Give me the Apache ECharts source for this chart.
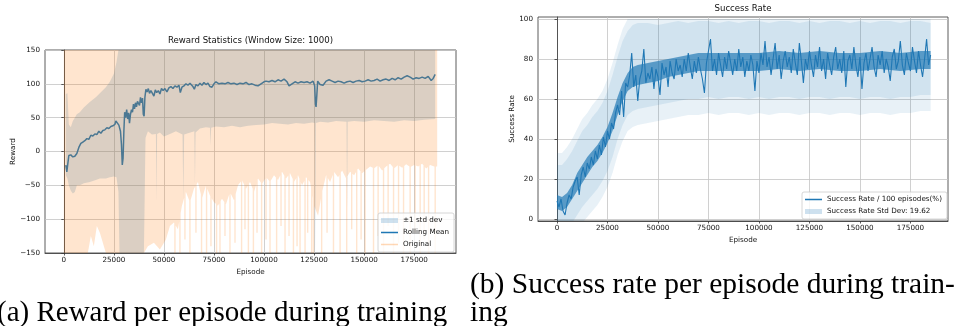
<!DOCTYPE html>
<html>
<head>
<meta charset="utf-8">
<script src="https://cdn.jsdelivr.net/npm/echarts@6/dist/echarts.min.js"></script>
<style>
  html, body { margin: 0; padding: 0; background: #fff; }
  #chart { width: 955px; height: 326px; }
</style>
</head>
<body>
<div id="chart"></div>
<script>
// ---- (a) reward statistics ----
const rmEpisodes = [1000, 1500, 2000, 2500, 3500, 4500, 5500, 6500, 7500, 8500, 9500, 10500, 11500, 12500, 13500, 14500, 15500, 16500, 17500, 18500,
  19500, 20500, 21500, 22500, 23500, 24500, 25500, 26000, 26700, 27500, 28300, 28800, 29200, 29600, 30000, 30400, 30900, 31400, 31900, 32400,
  32800, 33300, 33800, 34300, 34800, 35300, 35800, 36300, 36800, 37300, 37800, 38300, 38800, 39300, 39700, 40100, 40500, 41000, 41600, 42200,
  42800, 43500, 44200, 45000, 45700, 46400, 47200, 48000, 48800, 49600, 50500, 51500, 52500, 53500, 54500, 55500, 56500, 57500, 58200, 59000,
  60000, 61000, 62000, 63000, 63700, 64500, 65200, 66000, 67000, 68000, 69000, 70000, 71000, 72000, 73000, 74000, 75000, 76000, 77500, 79000,
  80500, 82000, 83500, 85000, 86500, 88000, 89500, 91000, 92500, 94000, 95500, 97000, 98500, 100000, 101000, 102500, 104000, 105500, 107000, 108500,
  110000, 111500, 112500, 114000, 115500, 117000, 118500, 120000, 121500, 123000, 124500, 125300, 125700, 126000, 126400, 126800, 128000, 129500, 131000, 132500,
  134000, 135500, 137000, 138500, 140000, 141500, 143000, 144500, 146000, 147500, 149000, 150500, 152000, 153500, 155000, 156500, 158000, 159500, 161000, 162500,
  164000, 165500, 167000, 168500, 170000, 171500, 173000, 174500, 176000, 177500, 179000, 180500, 182000, 183500, 184500, 185500];
const rmValues = [-20, -30, -18, -6, -5, -8, -7, -3, 6, 12, 14, 16, 19, 18, 24, 23, 26, 25, 30, 27,
  31, 32, 35, 34, 37, 38, 40, 45, 43, 39, 30, 10, -20, -10, 30, 58, 50, 62, 48, 57,
  42, 55, 62, 58, 70, 63, 72, 66, 74, 76, 68, 80, 72, 79, 55, 52, 80, 92, 88, 93,
  86, 90, 88, 82, 91, 87, 90, 85, 93, 90, 93, 88, 94, 96, 93, 97, 95, 98, 87, 95,
  97, 100, 98, 101, 103, 96, 92, 99, 97, 101, 98, 102, 99, 101, 96, 95, 100, 103, 100, 101,
  100, 102, 100, 101, 99, 101, 100, 102, 99, 100, 98, 97, 100, 103, 104, 103, 105, 103, 106, 104,
  107, 103, 97, 100, 103, 101, 103, 102, 103, 101, 104, 97, 70, 66, 84, 104, 99, 98, 104, 106,
  104, 102, 104, 103, 101, 103, 104, 102, 104, 105, 103, 104, 106, 104, 105, 107, 104, 106, 107, 105,
  108, 106, 109, 107, 110, 112, 110, 107, 109, 108, 110, 108, 111, 105, 108, 114];

const stdEpisodes = [1000, 1800, 2500, 3500, 4500, 5500, 6500, 8000, 10000, 13000, 16000, 18000, 21000, 23000, 25000, 26300, 27300, 27800, 40000, 40800,
  42000, 44000, 46000, 46300, 46600, 48000, 50000, 53000, 56000, 59300, 59700, 60100, 62000, 65200, 65500, 65800, 68000, 71000, 73000, 73300,
  73600, 76000, 80000, 84000, 88000, 92000, 96000, 100000, 104000, 108000, 112000, 116000, 120000, 124000, 125300, 125600, 125900, 128000, 132000, 136000,
  141200, 141500, 141800, 145000, 150000, 155000, 160000, 165000, 170000, 175000, 180000, 185500];
const stdUpper = [85, 86, 40, 36, 45, 50, 55, 58, 65, 73, 80, 86, 95, 103, 115, 132, 150, 150, 150, 150,
  150, 150, 150, 150, 150, 150, 150, 150, 150, 150, 150, 150, 150, 150, 150, 150, 150, 150, 150, 150,
  150, 150, 150, 150, 150, 150, 150, 150, 150, 150, 150, 150, 150, 150, 150, 150, 150, 150, 150, 150,
  150, 150, 150, 150, 150, 150, 150, 150, 150, 150, 150, 150];
const stdLower = [-35, -40, -50, -58, -62, -60, -50, -50, -47, -45, -42, -40, -40, -38, -37, -38, -60, -150, -150, 20,
  30, 25, 26, -75, 26, 28, 22, 26, 30, 25, -72, 25, 27, 30, -50, 28, 34, 36, 35, 9,
  35, 37, 36, 38, 36, 38, 39, 40, 42, 41, 40, 42, 41, 43, 42, -150, 42, 44, 43, 45,
  44, -85, 44, 45, 44, 46, 45, 44, 46, 45, 47, 48];

// lower edge of the dense raw-reward cloud (it always reaches the top of the plot)
const origEpisodes = [0, 12000, 13500, 15000, 16500, 18000, 19500, 21000, 40000, 42000,
  45000, 48000, 51000, 53000, 55000, 57000, 59000, 61000, 63000, 65000,
  67000, 69000, 71000, 73000, 75000, 77000, 79000, 81000, 83000, 85000,
  87000, 89000, 91000, 93000, 95000, 97000, 99000, 101000, 103000, 105000,
  107000, 109000, 111000, 113000, 115000, 117000, 119000, 121000, 123000, 125000,
  127000, 129000, 131000, 133000, 135000, 137000, 139000, 141000, 143000, 145000,
  147000, 149000, 151000, 153000, 155000, 157000, 159000, 161000, 163000, 165000,
  167000, 169000, 171000, 173000, 175000, 177000, 179000, 181000, 183000, 185000, 186500];
const origLower = [-150, -150, -125, -140, -110, -120, -135, -150, -150, -140,
  -135, -145, -130, -110, -105, -115, -80, -60, -75, -55,
  -45, -70, -50, -65, -75, -80, -70, -78, -60, -72,
  -50, -42, -55, -45, -60, -40, -48, -38, -45, -35,
  -42, -30, -40, -32, -45, -35, -50, -38, -45, -80,
  -95, -60, -35, -45, -30, -38, -28, -40, -30, -35,
  -25, -32, -27, -22, -25, -20, -28, -22, -18, -25,
  -20, -24, -19, -23, -20, -22, -18, -25, -20, -22, -22];
// single very low episodes poking below the cloud
const origSpikeEpisodes = [55500, 58000, 60500, 63000, 66000, 68800, 71300, 73500, 76300, 78000,
  80500, 83000, 85500, 88800, 90500, 92200, 94700, 96500, 98800, 101000,
  103000, 106300, 108500, 110500, 112500, 114700, 116500, 118000, 120500, 121800,
  123800, 124700, 128800, 131500, 134700, 138000, 141300, 143800, 146300, 148500,
  150500, 154700, 157000, 159700, 162000, 164700, 167200, 169700, 173000, 175500,
  178000, 180000, 182200, 185500];
const origSpikeLows = [-150, -150, -130, -150, -120, -150, -150, -140, -150, -150,
  -125, -150, -135, -150, -115, -150, -150, -120, -150, -130,
  -150, -150, -110, -150, -125, -150, -140, -150, -150, -120,
  -150, -150, -150, -120, -150, -150, -150, -115, -150, -130,
  -150, -150, -125, -150, -110, -150, -135, -150, -150, -120,
  -150, -130, -150, -150];

// ---- (b) success rate ----
const srStep = 1000;
const srValues = [9, 6, 10, 4, 2, 8, 12, 10, 16, 19, 21,
  12, 22, 26, 21, 28, 25, 31, 27, 34, 30, 37, 32, 41, 36, 44,
  40, 48, 45, 53, 57, 52, 64, 51, 68, 66, 72,
  83, 66, 72, 59, 70, 74, 85, 68, 73, 70, 76, 65, 75, 71, 62, 78, 72, 76, 66, 79, 73, 70, 80, 74,
  77, 71, 80, 74, 83, 76, 70, 79, 73, 81, 75, 70, 63, 78, 84, 90, 74, 80, 72, 83,
  77, 71, 81, 75, 84, 78, 72, 80, 74, 85, 76, 81, 71, 79, 74, 82, 77, 64, 79, 73,
  83, 77, 89, 76, 81, 72, 80, 88, 75, 82, 70, 79, 84, 76, 81, 73, 85, 78, 72, 88,
  79, 68, 80, 75, 84, 77, 71, 82, 76, 86, 74, 80, 70, 83, 77, 72, 81, 86, 75, 80,
  73, 84, 66, 79, 82, 75, 86, 77, 71, 81, 65, 78, 83, 74, 80, 86, 76, 71, 82, 77,
  84, 73, 80, 76, 69, 81, 85, 75, 79, 89, 77, 72, 83, 78, 74, 86, 79, 73, 84, 77,
  71, 80, 90, 77, 82];
// where the dense success-rate trace overlaps itself into a solid ribbon
const srRibbonEpisodes = [0, 2500, 5000, 7500, 10000, 12500, 15000, 17500, 20000, 22500,
  25000, 27500, 30000, 32500, 35000, 37500, 40000, 45000, 50000, 55000,
  60000, 65000, 70000, 80000, 90000, 100000, 110000, 120000, 130000, 140000,
  150000, 160000, 170000, 180000, 185000];
const srRibbonLow = [5, 4, 6, 10, 14, 18, 22, 26, 29, 33,
  38, 44, 52, 59, 64, 66, 67, 68, 69, 71,
  72, 73, 74, 74, 74, 74, 75, 74, 75, 74,
  74, 75, 74, 75, 75];
const srRibbonHigh = [12, 11, 13, 17, 23, 27, 31, 34, 37, 41,
  46, 53, 61, 68, 73, 76, 77, 78, 79, 80,
  81, 82, 83, 83, 83, 83, 84, 83, 84, 83,
  83, 84, 83, 84, 84];
const srBandEpisodes = [0, 2500, 5000, 7500, 10000, 12500, 15000, 17500, 20000, 22500,
  25000, 27500, 30000, 32500, 35000, 37500, 40000, 45000, 50000, 55000,
  60000, 65000, 70000, 75000, 80000, 85000, 90000, 95000, 100000, 105000,
  110000, 115000, 120000, 125000, 130000, 135000, 140000, 145000, 150000, 155000,
  160000, 165000, 170000, 175000, 180000, 185000];
const srBandUpper = [27, 27, 30, 34, 39, 44, 47, 51, 54, 58,
  64, 72, 81, 89, 94, 97, 98, 98, 97, 98,
  99, 98, 99, 99, 98, 99, 98, 99, 99, 98,
  99, 99, 98, 99, 98, 99, 99, 98, 99, 98,
  99, 99, 98, 99, 99, 98];
const srBandLower = [-6, -7, -5, -2, 2, 6, 9, 12, 15, 19,
  24, 31, 40, 47, 52, 54, 55, 56, 57, 58,
  59, 60, 60, 61, 60, 61, 61, 60, 61, 60,
  61, 61, 60, 61, 61, 60, 61, 61, 60, 61,
  61, 60, 61, 61, 62, 62];
// faint outer edge of the std band
const srFuzzUpper = [33, 33, 36, 40, 45, 50, 53, 57, 60, 64,
  70, 78, 87, 95, 100, 100, 100, 100, 100, 100,
  100, 100, 100, 100, 100, 100, 100, 100, 100, 100,
  100, 100, 100, 100, 100, 100, 100, 100, 100, 100,
  100, 100, 100, 100, 100, 100];
const srFuzzLower = [-14, -15, -13, -10, -6, -2, 1, 4, 7, 11,
  16, 23, 32, 39, 44, 46, 47, 48, 49, 50,
  51, 52, 52, 53, 52, 53, 53, 52, 53, 52,
  53, 53, 52, 53, 53, 52, 53, 53, 52, 53,
  53, 52, 53, 53, 54, 54];

const episodeTicks = [0, 25000, 50000, 75000, 100000, 125000, 150000, 175000];
const successTicks = [0, 20, 40, 60, 80, 100];

const FONT = "DejaVu Sans";
const SERIF = "Liberation Serif";
const blue = "#1f77b4";
// thin bar inside a 17x5 box, for line entries in the legends
const lineIcon = "path://M0,0L0.01,0L0,0.01Z M0,1.85L17,1.85L17,3.15L0,3.15Z M17,5L16.99,5L17,4.99Z";

function pairs(xs, ys) {
  return xs.map((x, i) => [x, ys[i]]);
}
function interp(xs, ys, x) {
  for (let i = 1; i < xs.length; i++) {
    if (x <= xs[i]) {
      const t = (x - xs[i - 1]) / (xs[i] - xs[i - 1]);
      return ys[i - 1] + t * (ys[i] - ys[i - 1]);
    }
  }
  return ys[ys.length - 1];
}

// filled band between two edges, drawn as one polygon through the axes
function band(name, xi, eps, lows, ups, fill, z) {
  return {
    type: "custom", name, xAxisIndex: xi, yAxisIndex: xi, z, silent: true, clip: true,
    itemStyle: { color: fill },
    data: [[eps[0], lows[0]]],
    renderItem: (params, api) => {
      const pts = [];
      for (let i = 0; i < eps.length; i++) pts.push(api.coord([eps[i], ups[i]]));
      for (let i = eps.length - 1; i >= 0; i--) pts.push(api.coord([eps[i], lows[i]]));
      return { type: "polygon", shape: { points: pts }, style: { fill } };
    },
  };
}

// raw reward cloud: envelope with narrow dips for the spikes
const half = 350;
let origPts = pairs(origEpisodes, origLower).filter(p =>
  !origSpikeEpisodes.some(e => Math.abs(p[0] - e) <= half + 1));
origSpikeEpisodes.forEach((e, i) => {
  const a = e - half, b = e + half;
  origPts.push([a, interp(origEpisodes, origLower, a), 0]);
  origPts.push([a, origSpikeLows[i], 1]);
  origPts.push([b, origSpikeLows[i], 2]);
  origPts.push([b, interp(origEpisodes, origLower, b), 3]);
});
origPts.sort((p, q) => p[0] - q[0] || (p[2] || 0) - (q[2] || 0));
const origX = origPts.map(p => p[0]);
const origLow = origPts.map(p => p[1]);
const origTop = origPts.map(() => 150);

const srData = srValues.map((v, i) => [i * srStep, v]);

const fmt = v => String(v).replace("-", "\u2212");
const tickFont = { fontFamily: FONT, fontSize: 7.2, color: "#111" };

function xAxisOf(gridIndex, min, max) {
  return {
    type: "value", gridIndex, min, max,
    name: "Episode", nameLocation: "middle", nameGap: 14,
    nameTextStyle: { fontFamily: FONT, fontSize: 7.2, color: "#111" },
    axisLine: { show: true, onZero: false, lineStyle: { color: "#333", width: 0.8 } },
    axisTick: { show: true, length: 2.5, customValues: episodeTicks, lineStyle: { color: "#333", width: 0.8 } },
    axisLabel: Object.assign({ margin: 4, customValues: episodeTicks, formatter: fmt }, tickFont),
    splitLine: { show: true, lineStyle: { color: "#c4c4c4", width: 0.8 } },
  };
}

const legendBase = {
  orient: "vertical", selectedMode: false,
  itemWidth: 17, itemHeight: 5, itemGap: 5,
  padding: [4, 5, 4, 3],
  backgroundColor: "rgba(255,255,255,0.8)", borderColor: "#cccccc", borderWidth: 0.8, borderRadius: 2,
  textStyle: { fontFamily: FONT, fontSize: 7.2, color: "#111" },
};

const chart = echarts.init(document.getElementById("chart"), null, { renderer: "canvas" });

const option = {
  animation: false,
  backgroundColor: "#ffffff",
  grid: [
    { left: 45, top: 50, width: 411, height: 203, show: true, borderColor: "#333", borderWidth: 0.8, backgroundColor: "transparent" },
    { left: 538, top: 17, width: 410, height: 204, show: true, borderColor: "#333", borderWidth: 0.8, backgroundColor: "transparent" },
  ],
  xAxis: [xAxisOf(0, -9400, 195900), xAxisOf(1, -9400, 193600)],
  yAxis: [
    {
      type: "value", gridIndex: 0, min: -150, max: 150, interval: 50,
      name: "Reward", nameLocation: "middle", nameGap: 27,
      nameTextStyle: { fontFamily: FONT, fontSize: 7.2, color: "#111" },
      axisLine: { show: true, lineStyle: { color: "#333", width: 0.8 } },
      axisTick: { show: true, length: 2.5, lineStyle: { color: "#333", width: 0.8 } },
      axisLabel: Object.assign({ margin: 5, formatter: fmt }, tickFont),
      splitLine: { show: true, lineStyle: { color: "#c4c4c4", width: 0.8 } },
    },
    {
      type: "value", gridIndex: 1, min: -1, max: 101,
      name: "Success Rate", nameLocation: "middle", nameGap: 22,
      nameTextStyle: { fontFamily: FONT, fontSize: 7.2, color: "#111" },
      axisLine: { show: true, lineStyle: { color: "#333", width: 0.8 } },
      axisTick: { show: true, length: 2.5, customValues: successTicks, lineStyle: { color: "#333", width: 0.8 } },
      axisLabel: Object.assign({ margin: 5, customValues: successTicks, formatter: fmt }, tickFont),
      splitLine: { show: true, lineStyle: { color: "#c4c4c4", width: 0.8 } },
    },
  ],
  legend: [
    Object.assign({}, legendBase, {
      left: 378, top: 213,
      data: [
        { name: "±1 std dev", icon: "rect", itemStyle: { color: "rgba(31,119,180,0.22)" } },
        { name: "Rolling Mean", icon: lineIcon, itemStyle: { color: blue } },
        { name: "Original", icon: lineIcon, itemStyle: { color: "rgba(255,127,14,0.3)" } },
      ],
    }),
    Object.assign({}, legendBase, {
      left: 802, top: 192,
      data: [
        { name: "Success Rate / 100 episodes(%)", icon: lineIcon, itemStyle: { color: blue } },
        { name: "Success Rate Std Dev: 19.62", icon: "rect", itemStyle: { color: "rgba(31,119,180,0.22)" } },
      ],
    }),
  ],
  graphic: [
    { type: "text", x: 250.5, y: 41, silent: true, style: { text: "Reward Statistics (Window Size: 1000)", fontFamily: FONT, fontSize: 8.6, fill: "#111", textAlign: "center", textVerticalAlign: "middle" } },
    { type: "text", x: 743, y: 9, silent: true, style: { text: "Success Rate", fontFamily: FONT, fontSize: 8.6, fill: "#111", textAlign: "center", textVerticalAlign: "middle" } },
    { type: "text", x: -3, y: 313, silent: true, style: { text: "(a) Reward per episode during training", fontFamily: SERIF, fontSize: 29, fill: "#000", textAlign: "left", textVerticalAlign: "middle" } },
    { type: "text", x: 470, y: 285, silent: true, style: { text: "(b) Success rate per episode during train-", fontFamily: SERIF, fontSize: 29.5, fill: "#000", textAlign: "left", textVerticalAlign: "middle" } },
    { type: "text", x: 470, y: 313, silent: true, style: { text: "ing", fontFamily: SERIF, fontSize: 29.5, fill: "#000", textAlign: "left", textVerticalAlign: "middle" } },
  ],
  series: [
    // (a)
    band("±1 std dev", 0, stdEpisodes, stdLower, stdUpper, "rgba(31,119,180,0.2)", 1),
    {
      name: "Rolling Mean", type: "line", xAxisIndex: 0, yAxisIndex: 0, z: 2,
      data: pairs(rmEpisodes, rmValues), symbol: "none", silent: true,
      itemStyle: { color: blue },
      lineStyle: { color: blue, width: 1.5 },
    },
    band("Original", 0, origX, origLow, origTop, "rgba(255,127,14,0.2)", 3),
    // (b)
    band(undefined, 1, srBandEpisodes, srFuzzLower, srFuzzUpper, "rgba(31,119,180,0.1)", 1),
    band("Success Rate Std Dev: 19.62", 1, srBandEpisodes, srBandLower, srBandUpper, "rgba(31,119,180,0.11)", 1),
    band(undefined, 1, srRibbonEpisodes, srRibbonLow, srRibbonHigh, "rgba(31,119,180,0.68)", 2),
    {
      name: "Success Rate / 100 episodes(%)", type: "line", xAxisIndex: 1, yAxisIndex: 1, z: 3,
      data: srData, symbol: "none", silent: true,
      itemStyle: { color: blue },
      lineStyle: { color: blue, width: 1.1 },
    },
  ],
};

chart.setOption(option);
</script>
</body>
</html>
